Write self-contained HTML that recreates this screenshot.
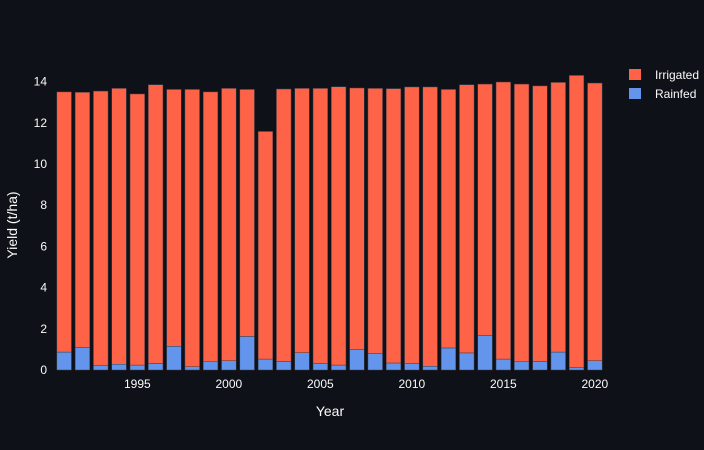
<!DOCTYPE html>
<html><head><meta charset="utf-8"><style>
body{margin:0;background:#0e1117;}
svg{display:block;font-family:"Liberation Sans",sans-serif;}
</style></head><body>
<svg id="chart" width="704" height="450">
<rect width="704" height="450" fill="#0e1117"/>
<g id="grid"></g><g id="bars"></g><g id="axes"></g>
<g>
<rect x="629" y="69" width="12" height="11" fill="#ff6347"/>
<text x="655" y="79" fill="#fafafa" font-size="12">Irrigated</text>
<rect x="629" y="88" width="12" height="11" fill="#6495ed"/>
<text x="655" y="98" fill="#fafafa" font-size="12">Rainfed</text>
</g>
<text x="330" y="416" fill="#fafafa" font-size="14" text-anchor="middle">Year</text>
<text transform="translate(17,225) rotate(-90)" fill="#fafafa" font-size="14" text-anchor="middle">Yield (t/ha)</text>
</svg>
<script>
const years=[1991,1992,1993,1994,1995,1996,1997,1998,1999,2000,2001,2002,2003,2004,2005,2006,2007,2008,2009,2010,2011,2012,2013,2014,2015,2016,2017,2018,2019,2020];
const rainfed=[0.87,1.10,0.21,0.28,0.24,0.32,1.15,0.16,0.40,0.45,1.63,0.53,0.42,0.84,0.31,0.24,0.99,0.81,0.34,0.31,0.18,1.07,0.83,1.67,0.53,0.40,0.42,0.87,0.13,0.45];
const irrigated=[12.63,12.38,13.33,13.39,13.16,13.53,12.47,13.46,13.10,13.22,11.99,11.05,13.22,12.83,13.36,13.51,12.70,12.86,13.32,13.43,13.56,12.55,13.02,12.21,13.45,13.48,13.37,13.09,14.17,13.48];
const yTicks=[0,2,4,6,8,10,12,14];
const xTicks=[1995,2000,2005,2010,2015,2020];
const NS="http://www.w3.org/2000/svg";
const x0=55,x1=604,y0=370,pxPerUnit=20.6;
const X=v=>x0+(v-1990.5)/30*(x1-x0);
const Y=v=>y0-v*pxPerUnit;
const bw=0.8*(x1-x0)/30;
function mk(tag,attrs,parent){const e=document.createElementNS(NS,tag);for(const k in attrs)e.setAttribute(k,attrs[k]);parent.appendChild(e);return e;}
const grid=document.getElementById('grid'),bars=document.getElementById('bars'),axes=document.getElementById('axes');
yTicks.forEach(t=>{
 const tx=mk('text',{x:47,y:Y(t)+4,fill:'#fafafa','font-size':12,'text-anchor':'end'},axes);
 tx.textContent=t;
 
 
});
xTicks.forEach(t=>{
 const tx=mk('text',{x:X(t),y:388,fill:'#fafafa','font-size':12,'text-anchor':'middle'},axes);
 tx.textContent=t;
 
 
});
years.forEach((yr,i)=>{
 const cx=X(yr);
 const r=mk('rect',{x:cx-bw/2,y:Y(rainfed[i]),width:bw,height:rainfed[i]*pxPerUnit,fill:'#6495ed',stroke:'#3a3f4b','stroke-width':0.5},bars);
 
 
 const top=rainfed[i]+irrigated[i];
 const g=mk('rect',{x:cx-bw/2,y:Y(top),width:bw,height:irrigated[i]*pxPerUnit,fill:'#ff6347',stroke:'#3a3f4b','stroke-width':0.5},bars);
 
 
});
</script>
</body></html>
